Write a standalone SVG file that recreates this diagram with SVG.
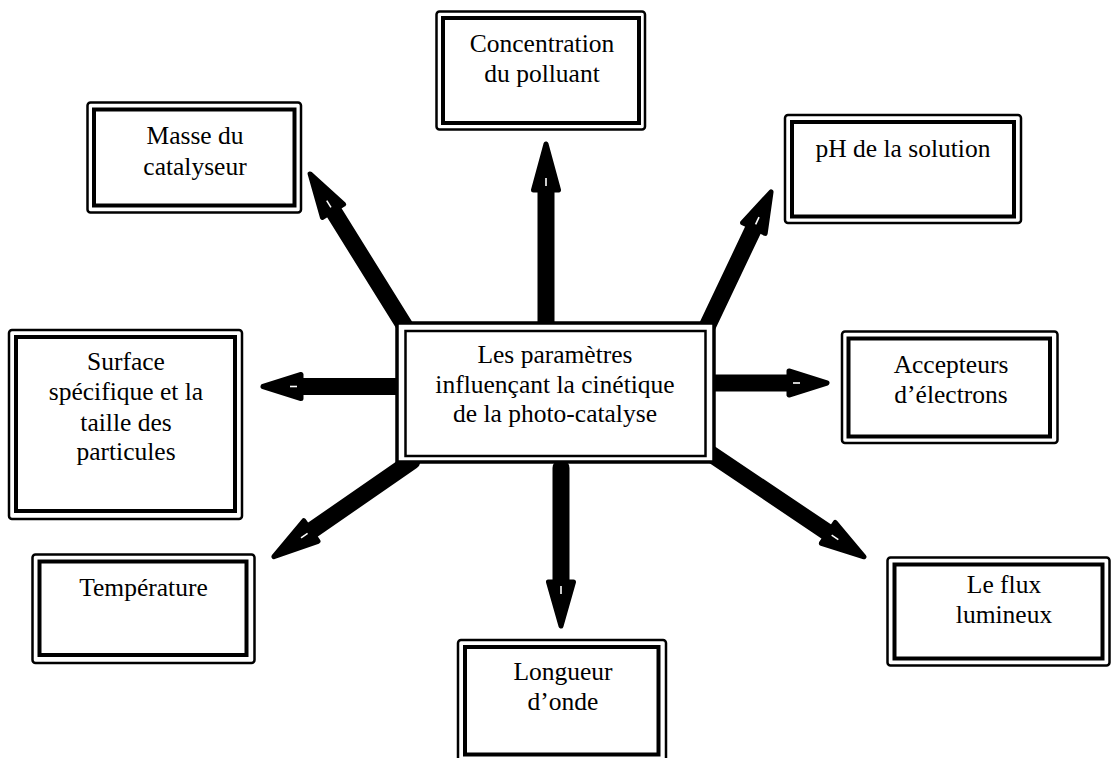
<svg xmlns="http://www.w3.org/2000/svg" width="1111" height="758" viewBox="0 0 1111 758">
<style>
.o{fill:#fff;stroke:#000;stroke-width:2.5;}
.i{fill:none;stroke:#000;stroke-width:4;}
.co{fill:#fff;stroke:#000;stroke-width:3.5;}
.ci{fill:none;stroke:#000;stroke-width:2.5;}
text{font-family:"Liberation Serif","Times New Roman",serif;font-size:25.5px;fill:#000;text-anchor:middle;}
.shaft{stroke:#000;stroke-width:17;stroke-linecap:round;fill:none;}
.head{fill:#000;stroke:#000;stroke-width:5;stroke-linejoin:round;}
.slit{stroke:#fff;stroke-width:1.6;}
</style>
<rect width="1111" height="758" fill="#fff"/>
<g id="connectors">
  <g transform="translate(546,325) rotate(-90)"><line class="shaft" x1="0" y1="0" x2="135" y2="0"/><polygon class="head" points="135,-12.5 181,0 135,12.5"/><line class="slit" x1="139" y1="0" x2="147" y2="0"/></g>
  <g transform="translate(400,386.5) rotate(180)"><line class="shaft" x1="0" y1="0" x2="99" y2="0"/><polygon class="head" points="99,-12 137,0 99,12"/><line class="slit" x1="103" y1="0" x2="110" y2="0"/></g>
  <g transform="translate(710,383) rotate(0)"><line class="shaft" x1="0" y1="0" x2="79" y2="0"/><polygon class="head" points="79,-12 117,0 79,12"/><line class="slit" x1="83" y1="0" x2="90" y2="0"/></g>
  <g transform="translate(561,468) rotate(90)"><line class="shaft" x1="0" y1="0" x2="114" y2="0"/><polygon class="head" points="114,-12.5 158,0 114,12.5"/><line class="slit" x1="118" y1="0" x2="126" y2="0"/></g>
  <g transform="translate(406,328) rotate(-121.9)"><line class="shaft" x1="0" y1="0" x2="138" y2="0"/><polygon class="head" points="138,-12.5 181.5,0 138,12.5"/><line class="slit" x1="142" y1="0" x2="150" y2="0"/></g>
  <g transform="translate(705,331) rotate(-64.6)"><line class="shaft" x1="0" y1="0" x2="114" y2="0"/><polygon class="head" points="114,-12.5 154,0 114,12.5"/><line class="slit" x1="118" y1="0" x2="126" y2="0"/></g>
  <g transform="translate(412,461) rotate(145.3)"><line class="shaft" x1="0" y1="0" x2="123" y2="0"/><polygon class="head" points="123,-12.5 168,0 123,12.5"/><line class="slit" x1="127" y1="0" x2="135" y2="0"/></g>
  <g transform="translate(708,452) rotate(33.9)"><line class="shaft" x1="0" y1="0" x2="145" y2="0"/><polygon class="head" points="145,-12.5 188,0 145,12.5"/><line class="slit" x1="149" y1="0" x2="157" y2="0"/></g>
</g>
<g id="center">
  <rect class="co" x="397" y="323" width="317" height="139"/>
  <rect class="ci" x="405.5" y="331" width="300" height="125"/>
  <text x="555" y="363">Les paramètres</text>
  <text x="555" y="392.5">influençant la cinétique</text>
  <text x="555" y="422">de la photo-catalyse</text>
</g>
<g id="concentration">
  <rect class="o" x="436.5" y="11.5" width="208.5" height="118" rx="3"/>
  <rect class="i" x="443" y="18" width="196" height="105"/>
  <text x="542" y="52">Concentration</text>
  <text x="542" y="82">du polluant</text>
</g>
<g id="masse">
  <rect class="o" x="87.5" y="102.5" width="213.5" height="110" rx="3"/>
  <rect class="i" x="94" y="109.5" width="200.5" height="96"/>
  <text x="195" y="144">Masse du</text>
  <text x="195" y="175">catalyseur</text>
</g>
<g id="ph">
  <rect class="o" x="785" y="115" width="236" height="108" rx="3"/>
  <rect class="i" x="792" y="122" width="222" height="94.5"/>
  <text x="903" y="157">pH de la solution</text>
</g>
<g id="surface">
  <rect class="o" x="9" y="330" width="233" height="189" rx="3"/>
  <rect class="i" x="16" y="337" width="219" height="174"/>
  <text x="126" y="370">Surface</text>
  <text x="126" y="400">spécifique et la</text>
  <text x="126" y="430.5">taille des</text>
  <text x="126" y="460">particules</text>
</g>
<g id="accepteurs">
  <rect class="o" x="842" y="331.5" width="215.5" height="111.5" rx="3"/>
  <rect class="i" x="848.5" y="338.5" width="201.5" height="98"/>
  <text x="951" y="373">Accepteurs</text>
  <text x="951" y="402.5">d’électrons</text>
</g>
<g id="temperature">
  <rect class="o" x="32.5" y="554.5" width="222" height="108.5" rx="3"/>
  <rect class="i" x="39.5" y="561.5" width="207" height="93.5"/>
  <text x="143.5" y="596">Température</text>
</g>
<g id="longueur">
  <rect class="o" x="458" y="640" width="208" height="125" rx="3"/>
  <rect class="i" x="465" y="647" width="193.5" height="107.5"/>
  <text x="563" y="680">Longueur</text>
  <text x="563" y="710">d’onde</text>
</g>
<g id="flux">
  <rect class="o" x="887.5" y="557.5" width="222" height="108" rx="3"/>
  <rect class="i" x="894.5" y="564.5" width="208" height="94"/>
  <text x="1004" y="593">Le flux</text>
  <text x="1004" y="623">lumineux</text>
</g>
</svg>
